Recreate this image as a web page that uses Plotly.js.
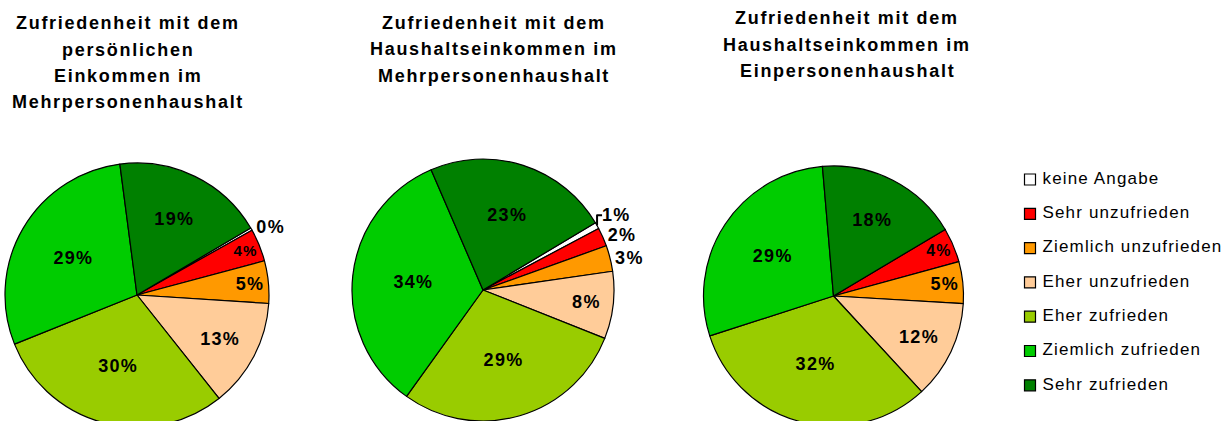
<!DOCTYPE html>
<html><head><meta charset="utf-8">
<script src="https://cdn.plot.ly/plotly-3.0.1.min.js"></script>
<style>
html,body{margin:0;padding:0;overflow:hidden;background:#fff}
#chart{width:1231px;height:440px}
.annotation-text{letter-spacing:1.7px}
.slicetext{letter-spacing:1.3px}
.textpoint text{letter-spacing:1.15px}
</style></head><body><div id="chart"></div>
<script>
// ---- data ----
const categories = ["keine Angabe","Sehr unzufrieden","Ziemlich unzufrieden","Eher unzufrieden","Eher zufrieden","Ziemlich zufrieden","Sehr zufrieden"];
const valuesPersMehr = [0.3, 4.0, 5.2, 13.3, 29.6, 29.0, 18.6];
const valuesHausMehr = [0.8, 2.3, 3.2, 8.3, 28.9, 33.6, 22.9];
const valuesHausEin  = [0.0, 4.3, 5.2, 12.2, 31.9, 28.6, 17.8];
const titlePersMehr = ["Zufriedenheit mit dem","persönlichen","Einkommen im","Mehrpersonenhaushalt"];
const titleHausMehr = ["Zufriedenheit mit dem","Haushaltseinkommen im","Mehrpersonenhaushalt"];
const titleHausEin  = ["Zufriedenheit mit dem","Haushaltseinkommen im","Einpersonenhaushalt"];

// ---- style / layout ----
const colors = ["#FFFFFF","#FF0000","#FF9900","#FFCC99","#99CC00","#00CC00","#008000"];
const W = 1231, H = 440;
const FONT = '"Liberation Sans", Arial, sans-serif';
const pies = [
  {values: valuesPersMehr, title: titlePersMehr, cx: 137, cy: 295, r: 132, rot: 59.5, tx: 128, ty: 23,
   pos: ['outside','inside','inside','inside','inside','inside','inside']},
  {values: valuesHausMehr, title: titleHausMehr, cx: 483, cy: 290, r: 131, rot: 59.1, tx: 494, ty: 22.5,
   pos: ['outside','outside','outside','inside','inside','inside','inside']},
  {values: valuesHausEin, title: titleHausEin, cx: 833.5, cy: 296, r: 130, rot: 59.2, tx: 847, ty: 18,
   pos: ['none','inside','inside','inside','inside','inside','inside']}
];
const lineStep = 26.5;
const legendX = 1030, legendTextGap = 12.5, legendTop = 179.5, legendStep = 34.3;

const labelFont = {family: FONT, size: 18, color: '#000', weight: 700};
const traces = [];
const annotations = [];
pies.forEach(p => {
  traces.push({
    type: 'pie', labels: categories, values: p.values, sort: false, direction: 'clockwise',
    rotation: p.rot,
    marker: {colors: colors, line: {color: '#000', width: 1.2}},
    texttemplate: '%{percent:.0%}', textposition: p.pos,
    insidetextorientation: 'horizontal',
    textfont: labelFont, insidetextfont: labelFont, outsidetextfont: labelFont,
    hoverinfo: 'none', showlegend: false,
    domain: {x: [(p.cx - p.r) / W, (p.cx + p.r) / W], y: [(H - p.cy - p.r) / H, (H - p.cy + p.r) / H]}
  });
  p.title.forEach((line, i) => {
    annotations.push({
      text: line, xref: 'paper', yref: 'paper', x: p.tx / W, y: (H - (p.ty + i * lineStep)) / H,
      xanchor: 'center', yanchor: 'middle', showarrow: false,
      font: {family: FONT, size: 18, color: '#000', weight: 700}
    });
  });
});

// legend drawn as scatter traces on hidden axes
const legendRows = categories.map((c, i) => i);
traces.push({
  type: 'scatter', mode: 'markers', xaxis: 'x', yaxis: 'y',
  x: categories.map(() => 0), y: legendRows, cliponaxis: false,
  marker: {symbol: 'square', size: 11, color: colors, line: {color: '#000', width: 1.2}},
  hoverinfo: 'skip', showlegend: false
});
traces.push({
  type: 'scatter', mode: 'text', xaxis: 'x', yaxis: 'y',
  x: categories.map(() => legendTextGap), y: legendRows, text: categories,
  textposition: 'middle right', cliponaxis: false,
  textfont: {family: FONT, size: 17, color: '#000'},
  hoverinfo: 'skip', showlegend: false
});

const yb = -legendTop / legendStep;
const ya = yb + H / legendStep;
const layout = {
  width: W, height: H, margin: {l: 0, r: 0, t: 0, b: 0},
  paper_bgcolor: '#fff', plot_bgcolor: 'rgba(0,0,0,0)',
  showlegend: false, hovermode: false,
  xaxis: {domain: [0, 1], range: [-legendX, W - legendX], visible: false, fixedrange: true},
  yaxis: {domain: [0, 1], range: [ya, yb], visible: false, fixedrange: true},
  annotations: annotations
};
Plotly.newPlot('chart', traces, layout, {staticPlot: true, displayModeBar: false});
</script></body></html>
